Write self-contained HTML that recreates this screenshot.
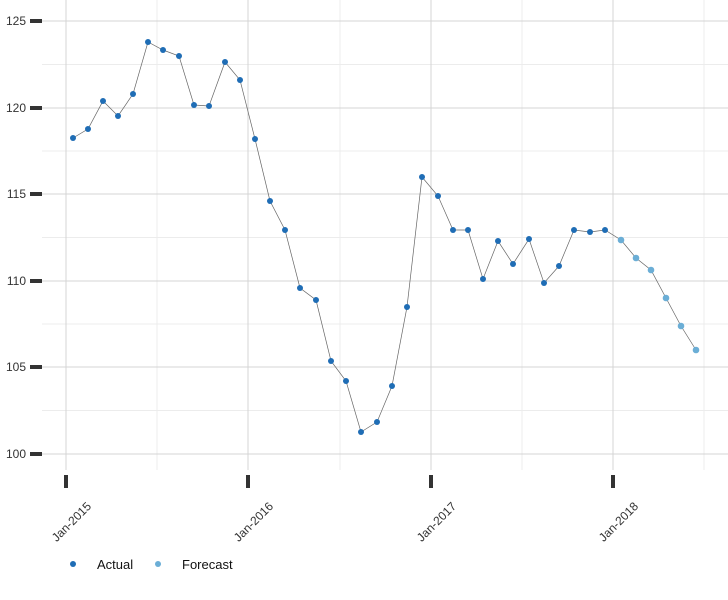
<!DOCTYPE html>
<html><head><style>body{margin:0;background:#fff}svg{display:block;font-family:"Liberation Sans",sans-serif}</style></head><body>
<svg width="728" height="600" viewBox="0 0 728 600">
<g stroke="#ececec" stroke-width="1">
<line x1="42" y1="64.5" x2="728" y2="64.5"/><line x1="42" y1="151" x2="728" y2="151"/><line x1="42" y1="237.5" x2="728" y2="237.5"/><line x1="42" y1="324" x2="728" y2="324"/><line x1="42" y1="410.5" x2="728" y2="410.5"/>
<line x1="157" y1="0" x2="157" y2="470"/><line x1="340" y1="0" x2="340" y2="470"/><line x1="522" y1="0" x2="522" y2="470"/><line x1="704" y1="0" x2="704" y2="470"/>
</g>
<g stroke="#d4d4d4" stroke-width="1">
<line x1="42" y1="21" x2="728" y2="21"/><line x1="42" y1="108" x2="728" y2="108"/><line x1="42" y1="194" x2="728" y2="194"/><line x1="42" y1="281" x2="728" y2="281"/><line x1="42" y1="367" x2="728" y2="367"/><line x1="42" y1="454" x2="728" y2="454"/>
<line x1="66" y1="0" x2="66" y2="470"/><line x1="248" y1="0" x2="248" y2="470"/><line x1="431" y1="0" x2="431" y2="470"/><line x1="613" y1="0" x2="613" y2="470"/>
</g>
<g stroke="#333" stroke-width="4">
<line x1="30" y1="21" x2="42" y2="21"/><line x1="30" y1="108" x2="42" y2="108"/><line x1="30" y1="194" x2="42" y2="194"/><line x1="30" y1="281" x2="42" y2="281"/><line x1="30" y1="367" x2="42" y2="367"/><line x1="30" y1="454" x2="42" y2="454"/>
<line x1="66" y1="475" x2="66" y2="488"/><line x1="248" y1="475" x2="248" y2="488"/><line x1="431" y1="475" x2="431" y2="488"/><line x1="613" y1="475" x2="613" y2="488"/>
</g>
<g font-size="12" fill="#333" text-anchor="end">
<text x="26" y="25">125</text><text x="26" y="112">120</text><text x="26" y="198">115</text><text x="26" y="285">110</text><text x="26" y="371">105</text><text x="26" y="458">100</text>
</g>
<g font-size="12" fill="#333" text-anchor="end">
<text transform="translate(92,507) rotate(-45)">Jan-2015</text>
<text transform="translate(274,507) rotate(-45)">Jan-2016</text>
<text transform="translate(457,507) rotate(-45)">Jan-2017</text>
<text transform="translate(639,507) rotate(-45)">Jan-2018</text>
</g>
<polyline fill="none" stroke="#666" stroke-width="0.7" points="73,138 88,129 103,101 118,116 133,94 148,42 163,50 179,56 194,105 209,106 225,62 240,80 255,139 270,201 285,230 300,288 316,300 331,361 346,381 361,432 377,422 392,386 407,307 422,177 438,196 453,230 468,230 483,279 498,241 513,264 529,239 544,283 559,266 574,230 590,232 605,230 621,240 636,258 651,270 666,298 681,326 696,350"/>
<g fill="#1f6db5">
<circle cx="73" cy="138" r="3"/><circle cx="88" cy="129" r="3"/><circle cx="103" cy="101" r="3"/><circle cx="118" cy="116" r="3"/><circle cx="133" cy="94" r="3"/><circle cx="148" cy="42" r="3"/><circle cx="163" cy="50" r="3"/><circle cx="179" cy="56" r="3"/><circle cx="194" cy="105" r="3"/><circle cx="209" cy="106" r="3"/><circle cx="225" cy="62" r="3"/><circle cx="240" cy="80" r="3"/><circle cx="255" cy="139" r="3"/><circle cx="270" cy="201" r="3"/><circle cx="285" cy="230" r="3"/><circle cx="300" cy="288" r="3"/><circle cx="316" cy="300" r="3"/><circle cx="331" cy="361" r="3"/><circle cx="346" cy="381" r="3"/><circle cx="361" cy="432" r="3"/><circle cx="377" cy="422" r="3"/><circle cx="392" cy="386" r="3"/><circle cx="407" cy="307" r="3"/><circle cx="422" cy="177" r="3"/><circle cx="438" cy="196" r="3"/><circle cx="453" cy="230" r="3"/><circle cx="468" cy="230" r="3"/><circle cx="483" cy="279" r="3"/><circle cx="498" cy="241" r="3"/><circle cx="513" cy="264" r="3"/><circle cx="529" cy="239" r="3"/><circle cx="544" cy="283" r="3"/><circle cx="559" cy="266" r="3"/><circle cx="574" cy="230" r="3"/><circle cx="590" cy="232" r="3"/><circle cx="605" cy="230" r="3"/>
<circle cx="73" cy="564" r="3"/>
</g>
<g fill="#6baed6">
<circle cx="621" cy="240" r="3.3"/><circle cx="636" cy="258" r="3.3"/><circle cx="651" cy="270" r="3.3"/><circle cx="666" cy="298" r="3.3"/><circle cx="681" cy="326" r="3.3"/><circle cx="696" cy="350" r="3.3"/>
<circle cx="158" cy="564" r="3"/>
</g>
<g font-size="13" fill="#111">
<text x="97" y="569">Actual</text><text x="182" y="569">Forecast</text>
</g>
</svg>
</body></html>
